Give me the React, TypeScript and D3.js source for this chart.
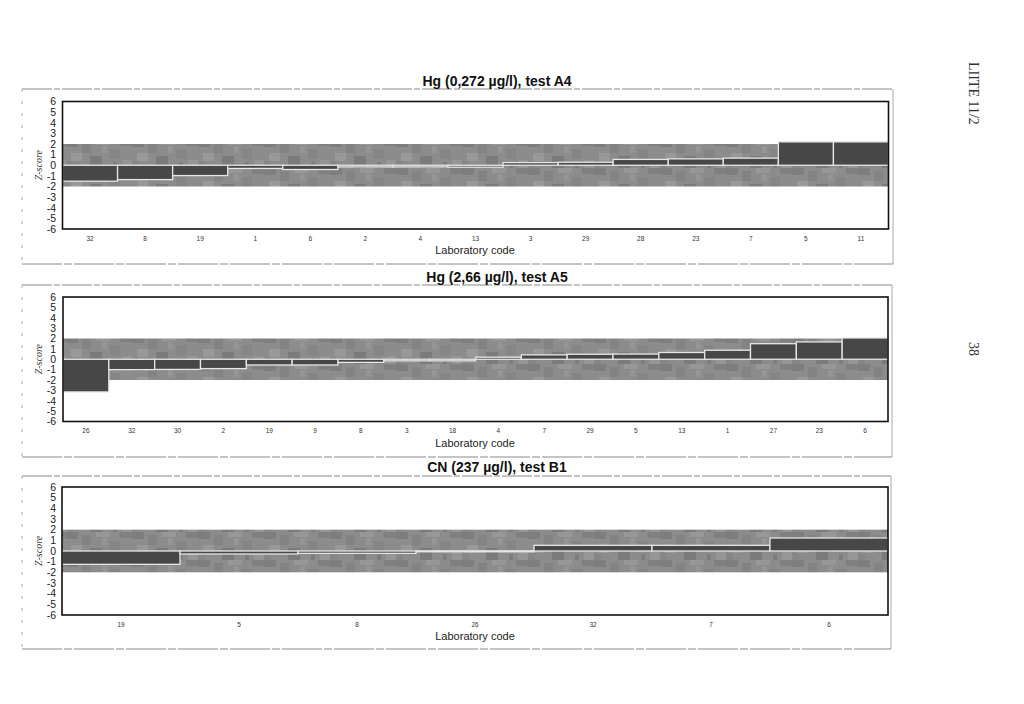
import React from "react";
import * as d3 from "d3";

const labsA4 = ["32", "8", "19", "1", "6", "2", "4", "13", "3", "29", "28", "23", "7", "5", "11"];
const zA4 = [-1.5, -1.35, -0.97, -0.3, -0.4, -0.15, -0.15, -0.18, 0.25, 0.28, 0.55, 0.6, 0.67, 2.2, 2.2];

const labsA5 = ["26", "32", "30", "2", "19", "9", "8", "3", "18", "4", "7", "29", "5", "13", "1", "27", "23", "6"];
const zA5 = [-3.15, -1.0, -0.98, -0.9, -0.55, -0.55, -0.3, -0.15, -0.15, 0.2, 0.42, 0.48, 0.5, 0.65, 0.87, 1.5, 1.67, 2.05];

const labsB1 = ["19", "5", "8", "26", "32", "7", "6"];
const zB1 = [-1.25, -0.28, -0.22, 0.02, 0.53, 0.53, 1.22];

const yTicks = [6, 5, 4, 3, 2, 1, 0, -1, -2, -3, -4, -5, -6];

type PanelSpec = {
  title: string;
  labs: string[];
  z: number[];
  box: [number, number, number, number];
  plot: [number, number, number, number];
  titleY: number;
};

const panels: PanelSpec[] = [
  { title: "Hg (0,272 µg/l), test A4", labs: labsA4, z: zA4, box: [22, 89, 893, 264], plot: [62.5, 101.5, 888.5, 229], titleY: 86 },
  { title: "Hg (2,66 µg/l), test A5", labs: labsA5, z: zA5, box: [22, 285, 892, 457], plot: [63, 297, 888, 421.5], titleY: 282 },
  { title: "CN (237 µg/l), test B1", labs: labsB1, z: zB1, box: [22, 476, 891, 649], plot: [62, 487, 888, 615], titleY: 472 },
];

const Panel = ({ p }: { p: PanelSpec }) => {
  const [x0, y0, x1, y1] = p.plot;
  const x = d3.scaleBand<string>().domain(p.labs).range([x0, x1]).padding(0);
  const y = d3.scaleLinear().domain([-6, 6]).range([y1, y0]);
  const [bx0, by0, bx1, by1] = p.box;
  return (
    <g>
      <line x1={bx0} y1={by0} x2={bx1} y2={by0} stroke="#888" strokeWidth={1} strokeDasharray="30 2 6 2" />
      <line x1={bx1} y1={by0} x2={bx1} y2={by1} stroke="#aaa" strokeWidth={1} />
      <line x1={bx0} y1={by1} x2={bx1} y2={by1} stroke="#888" strokeWidth={1} strokeDasharray="40 2 8 2" />
      <line x1={bx0} y1={by0} x2={bx0} y2={by1} stroke="#aaa" strokeWidth={1} strokeDasharray="3 9" />
      <text x={497} y={p.titleY} textAnchor="middle" fontFamily="Arial, Liberation Sans, sans-serif" fontWeight="bold" fontSize={14} fill="#111">
        {p.title}
      </text>
      <rect x={x0} y={y0} width={x1 - x0} height={y1 - y0} fill="#fff" />
      <rect x={x0} y={y(2)} width={x1 - x0} height={y(-2) - y(2)} fill="url(#mottle)" />
      {p.labs.map((l, i) => {
        const v = p.z[i];
        const top = y(Math.max(0, v));
        const bot = y(Math.min(0, v));
        return (
          <rect key={l + i} x={x(l)!} y={top} width={x.bandwidth()} height={Math.max(bot - top, 1)}
            fill="#474747" stroke="#e6e6e6" strokeWidth={1.3} />
        );
      })}
      <rect x={x0} y={y0} width={x1 - x0} height={y1 - y0} fill="none" stroke="#111" strokeWidth={1.6} />
      {yTicks.map((t) => (
        <text key={t} x={56} y={y(t) + 3.8} textAnchor="end" fontFamily="Arial, Liberation Sans, sans-serif" fontSize={10.5} fill="#222">
          {t}
        </text>
      ))}
      <text transform={`translate(42,${y(0)}) rotate(-90)`} textAnchor="middle" fontFamily="Liberation Serif, serif" fontStyle="italic" fontSize={10} fill="#333">
        Z-score
      </text>
      {p.labs.map((l, i) => (
        <text key={"t" + l + i} x={x(l)! + x.bandwidth() / 2} y={y1 + 11.5} textAnchor="middle" fontFamily="Arial, Liberation Sans, sans-serif" fontSize={6.5} fill="#333">
          {l}
        </text>
      ))}
      <text x={475} y={y1 + 25} textAnchor="middle" fontFamily="Arial, Liberation Sans, sans-serif" fontSize={11} fill="#222">
        Laboratory code
      </text>
    </g>
  );
};

export default function App() {
  return (
    <svg width={1024} height={704} style={{ position: "absolute", left: 0, top: 0, background: "#fff" }}>
      <defs>
        <pattern id="mottle" width={66} height={28} patternUnits="userSpaceOnUse">
          <rect width={66} height={28} fill="#8c8c8c" />
          <rect x={0} y={0} width={12} height={7} fill="#7e7e7e" />
          <rect x={16} y={3} width={9} height={10} fill="#838383" />
          <rect x={30} y={0} width={14} height={5} fill="#979797" />
          <rect x={5} y={13} width={11} height={8} fill="#999" />
          <rect x={24} y={16} width={12} height={12} fill="#7b7b7b" />
          <rect x={44} y={9} width={10} height={10} fill="#858585" />
          <rect x={36} y={6} width={5} height={7} fill="#959595" />
          <rect x={0} y={21} width={7} height={7} fill="#868686" />
          <rect x={54} y={0} width={12} height={6} fill="#808080" />
          <rect x={56} y={20} width={10} height={8} fill="#969696" />
          <rect x={47} y={22} width={4} height={6} fill="#7d7d7d" />
        </pattern>
      </defs>
      <rect width={1024} height={704} fill="#fff" />
      {panels.map((p, i) => (
        <Panel key={i} p={p} />
      ))}
      <text transform="translate(969,62) rotate(90)" fontFamily="Liberation Serif, Times New Roman, serif" fontSize={14} fill="#333">
        LIITE 11/2
      </text>
      <text transform="translate(969,342) rotate(90)" fontFamily="Liberation Serif, Times New Roman, serif" fontSize={14} fill="#333">
        38
      </text>
    </svg>
  );
}
